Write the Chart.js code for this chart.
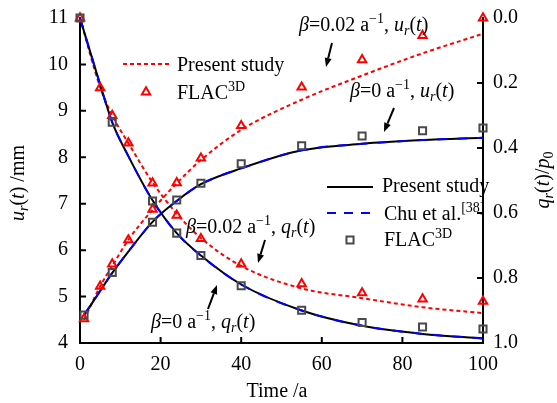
<!DOCTYPE html>
<html lang="en">
<head>
<meta charset="utf-8">
<title>Displacement and support pressure vs time</title>
<script src="https://cdn.jsdelivr.net/npm/chart.js@4.4.0/dist/chart.umd.min.js"></script>
<style>
  html, body { margin: 0; padding: 0; background: #fff; }
  #wrap { width: 557px; height: 403px; }
</style>
</head>
<body>
<div id="wrap"><canvas id="chart" width="557" height="403"></canvas></div>
<script>
// ---- data ----
// computed curves (present study / Chu et al.), time in a
var curveTimeU = [1, 5, 8, 12, 18, 24, 30, 40, 55, 70, 85, 100];
var curveTimeQ = [0, 5, 8, 12, 18, 24, 30, 40, 55, 70, 85, 100];
var urBeta0    = [4.60, 5.12, 5.51, 5.97, 6.61, 7.06, 7.42, 7.76, 8.15, 8.29, 8.37, 8.42];
var urBeta002  = [4.50, 5.22, 5.66, 6.22, 6.87, 7.44, 7.94, 8.59, 9.24, 9.76, 10.24, 10.66];
var qrBeta0    = [0, 0.205, 0.321, 0.425, 0.561, 0.662, 0.731, 0.820, 0.900, 0.947, 0.972, 0.986];
var qrBeta002  = [0, 0.213, 0.300, 0.385, 0.506, 0.602, 0.677, 0.763, 0.832, 0.862, 0.890, 0.908];
var chuUr      = [4.60, 5.12, 5.51, 5.97, 6.61, 7.06, 7.42, 7.76, 8.15, 8.29, 8.37, 8.42];
var chuQr      = [0, 0.205, 0.321, 0.425, 0.561, 0.662, 0.731, 0.820, 0.900, 0.947, 0.972, 0.986];

// FLAC3D results
var flacTimeTri   = [1, 5, 8, 12, 18, 24, 30, 40, 55, 70, 85, 100];
var flacUrBeta002 = [4.52, 5.22, 5.70, 6.22, 6.88, 7.45, 7.98, 8.68, 9.51, 10.10, 10.62, 11.0];
var flacTimeTriQ  = [0, 5, 8, 12, 18, 24, 30, 40, 55, 70, 85, 100];
var flacQrBeta002 = [0, 0.215, 0.300, 0.385, 0.508, 0.607, 0.679, 0.757, 0.818, 0.846, 0.865, 0.872];
var flacTimeSq    = [1, 8, 18, 24, 30, 40, 55, 70, 85, 100];
var flacUrBeta0   = [4.60, 5.52, 6.60, 7.08, 7.44, 7.86, 8.25, 8.46, 8.57, 8.63];
var flacTimeSqQ   = [0, 8, 18, 24, 30, 40, 55, 70, 85, 100];
var flacQrBeta0   = [0, 0.321, 0.563, 0.662, 0.731, 0.824, 0.899, 0.937, 0.951, 0.957];

// axes
var xTicks  = [0, 20, 40, 60, 80, 100];
var yTicks  = [4, 5, 6, 7, 8, 9, 10, 11];
var y1Ticks = [0, 0.2, 0.4, 0.6, 0.8, 1.0];

var FONT = '"Liberation Serif", "Times New Roman", serif';
var RED = '#ff0000', BLUE = '#0000ff', GREY = '#4a4a4a';
Chart.defaults.font.family = FONT;
Chart.defaults.font.weight = 'normal';

function pts(xs, ys) {
  return xs.map(function (x, i) { return { x: x, y: ys[i] }; });
}

function curve(data, axis, color, dash, order) {
  return {
    data: data, yAxisID: axis, borderColor: color, borderWidth: 2,
    borderDash: dash, pointRadius: 0, fill: false,
    cubicInterpolationMode: 'monotone', order: order, clip: false
  };
}

function marks(data, axis, style, color, r, order) {
  return {
    data: data, yAxisID: axis, showLine: false, pointStyle: style,
    pointRadius: r, pointBorderColor: color, pointBackgroundColor: 'rgba(0,0,0,0)',
    pointBorderWidth: 2, order: order, clip: false
  };
}

// ---- rich text helper (italic, sub, sup) ----
function fontFor(style, size) {
  var it = style.indexOf('i') === 0 ? 'italic ' : '';
  var small = (style.indexOf('sub') >= 0 || style.indexOf('sup') >= 0);
  return it + 'normal ' + (small ? Math.round(size * 0.68) : size) + 'px ' + FONT;
}
function drawRich(ctx, x, y, parts, size, align) {
  var w = 0;
  parts.forEach(function (p) { ctx.font = fontFor(p[1] || '', size); w += ctx.measureText(p[0]).width; });
  var cx = align === 'center' ? x - w / 2 : x;
  ctx.textAlign = 'left';
  ctx.textBaseline = 'alphabetic';
  parts.forEach(function (p) {
    var st = p[1] || '';
    var dy = 0;
    if (st.indexOf('sub') >= 0) dy = size * 0.22;
    if (st.indexOf('sup') >= 0) dy = -size * 0.38;
    ctx.font = fontFor(st, size);
    ctx.fillText(p[0], cx, y + dy);
    cx += ctx.measureText(p[0]).width;
  });
}
function arrow(ctx, x1, y1, x2, y2) {
  var ang = Math.atan2(y2 - y1, x2 - x1), hl = 9, hw = 3.5;
  var bx = x2 - hl * Math.cos(ang), by = y2 - hl * Math.sin(ang);
  ctx.beginPath(); ctx.moveTo(x1, y1); ctx.lineTo(bx, by); ctx.stroke();
  ctx.beginPath();
  ctx.moveTo(x2, y2);
  ctx.lineTo(bx + hw * Math.sin(ang), by - hw * Math.cos(ang));
  ctx.lineTo(bx - hw * Math.sin(ang), by + hw * Math.cos(ang));
  ctx.closePath(); ctx.fill();
}

var extras = {
  id: 'extras',
  afterDraw: function (chart) {
    var ctx = chart.ctx, a = chart.chartArea, len = 6;
    var sx = chart.scales.x, sy = chart.scales.y, sy1 = chart.scales.y1;
    ctx.save();
    ctx.strokeStyle = '#000'; ctx.fillStyle = '#000'; ctx.lineWidth = 2;
    // inward ticks
    ctx.beginPath();
    xTicks.forEach(function (v) {
      if (v <= 0 || v >= 100) return;
      var p = sx.getPixelForValue(v); ctx.moveTo(p, a.bottom); ctx.lineTo(p, a.bottom - len);
    });
    yTicks.forEach(function (v) {
      if (v <= 4 || v >= 11) return;
      var p = sy.getPixelForValue(v); ctx.moveTo(a.left, p); ctx.lineTo(a.left + len, p);
    });
    y1Ticks.forEach(function (v) {
      if (v <= 0 || v >= 1) return;
      var p = sy1.getPixelForValue(v); ctx.moveTo(a.right, p); ctx.lineTo(a.right - len, p);
    });
    ctx.stroke();

    // axis titles
    ctx.save(); ctx.translate(24, 183); ctx.rotate(-Math.PI / 2);
    drawRich(ctx, 0, 0, [['u', 'i'], ['r', 'isub'], ['('], ['t', 'i'], [') /mm']], 20, 'center');
    ctx.restore();
    ctx.save(); ctx.translate(549, 180); ctx.rotate(-Math.PI / 2);
    drawRich(ctx, 0, 0, [['q', 'i'], ['r', 'isub'], ['('], ['t', 'i'], [')/'], ['p', 'i'], ['0', 'sub']], 20, 'center');
    ctx.restore();
    drawRich(ctx, 277, 397, [['Time /a']], 20, 'center');

    // curve annotations
    drawRich(ctx, 299, 31, [['β', 'i'], ['=0.02 a'], ['−1', 'sup'], [', '], ['u', 'i'], ['r', 'isub'], ['('], ['t', 'i'], [')']], 20);
    drawRich(ctx, 350, 97, [['β', 'i'], ['=0 a'], ['−1', 'sup'], [', '], ['u', 'i'], ['r', 'isub'], ['('], ['t', 'i'], [')']], 20);
    drawRich(ctx, 186, 233, [['β', 'i'], ['=0.02 a'], ['−1', 'sup'], [', '], ['q', 'i'], ['r', 'isub'], ['('], ['t', 'i'], [')']], 20);
    drawRich(ctx, 151, 328, [['β', 'i'], ['=0 a'], ['−1', 'sup'], [', '], ['q', 'i'], ['r', 'isub'], ['('], ['t', 'i'], [')']], 20);
    arrow(ctx, 332, 43, 326, 67);
    arrow(ctx, 394, 108, 384, 132);
    arrow(ctx, 265, 240, 258, 263);
    arrow(ctx, 208, 309, 217, 285);

    // legend 1 (beta = 0.02)
    ctx.strokeStyle = RED; ctx.setLineDash([4, 3]);
    ctx.beginPath(); ctx.moveTo(123, 64); ctx.lineTo(171, 64); ctx.stroke();
    ctx.setLineDash([]);
    ctx.fillStyle = 'rgba(0,0,0,0)';
    Chart.helpers.drawPoint(ctx, { pointStyle: 'triangle', radius: 4.8, borderWidth: 2 }, 146, 92);
    ctx.fillStyle = '#000';
    drawRich(ctx, 177, 71, [['Present study']], 20);
    drawRich(ctx, 177, 99, [['FLAC'], ['3D', 'sup']], 20);

    // legend 2 (beta = 0)
    ctx.strokeStyle = '#000';
    ctx.beginPath(); ctx.moveTo(327, 187); ctx.lineTo(373, 187); ctx.stroke();
    ctx.strokeStyle = BLUE; ctx.setLineDash([9, 8]);
    ctx.beginPath(); ctx.moveTo(327, 213); ctx.lineTo(375, 213); ctx.stroke();
    ctx.setLineDash([]);
    ctx.strokeStyle = GREY;
    ctx.fillStyle = 'rgba(0,0,0,0)';
    Chart.helpers.drawPoint(ctx, { pointStyle: 'rect', radius: 5, borderWidth: 2 }, 350, 240);
    ctx.fillStyle = '#000';
    drawRich(ctx, 382, 192, [['Present study']], 20);
    drawRich(ctx, 384, 220, [['Chu et al.'], ['[38]', 'sup']], 20);
    drawRich(ctx, 384, 246, [['FLAC'], ['3D', 'sup']], 20);
    ctx.restore();
  }
};

var tickFont = { family: FONT, size: 20, weight: 'normal' };

new Chart(document.getElementById('chart'), {
  type: 'line',
  data: {
    datasets: [
      curve(pts(curveTimeU, urBeta002), 'y', RED, [4, 3], 5),
      curve(pts(curveTimeQ, qrBeta002), 'y1', RED, [4, 3], 5),
      curve(pts(curveTimeU, urBeta0), 'y', '#000', [], 4),
      curve(pts(curveTimeQ, qrBeta0), 'y1', '#000', [], 4),
      curve(pts(curveTimeU, chuUr), 'y', BLUE, [10, 10], 3),
      curve(pts(curveTimeQ, chuQr), 'y1', BLUE, [10, 10], 3),
      marks(pts(flacTimeTri, flacUrBeta002), 'y', 'triangle', RED, 4.8, 1),
      marks(pts(flacTimeTriQ, flacQrBeta002), 'y1', 'triangle', RED, 4.8, 1),
      marks(pts(flacTimeSq, flacUrBeta0), 'y', 'rect', GREY, 5, 0),
      marks(pts(flacTimeSqQ, flacQrBeta0), 'y1', 'rect', GREY, 5, 0)
    ]
  },
  options: {
    responsive: false,
    animation: false,
    layout: { padding: { top: 18, left: 0, right: 0, bottom: 0 } },
    plugins: { legend: { display: false }, tooltip: { enabled: false } },
    scales: {
      x: {
        type: 'linear', min: 0, max: 100,
        afterBuildTicks: function (s) { s.ticks = xTicks.map(function (v) { return { value: v }; }); },
        afterFit: function (s) { s.height = 60; s.paddingLeft = 0; s.paddingRight = 0; },
        grid: { display: false, drawTicks: false },
        border: { display: true, color: '#000', width: 2 },
        ticks: { color: '#000', font: tickFont, padding: 10, maxRotation: 0 }
      },
      y: {
        type: 'linear', position: 'left', min: 4, max: 11,
        afterBuildTicks: function (s) { s.ticks = yTicks.map(function (v) { return { value: v }; }); },
        afterFit: function (s) { s.width = 80; s.paddingTop = 0; s.paddingBottom = 0; },
        grid: { display: false, drawTicks: false },
        border: { display: true, color: '#000', width: 2 },
        ticks: { color: '#000', font: tickFont, padding: 12 }
      },
      y1: {
        type: 'linear', position: 'right', min: 0, max: 1, reverse: true,
        afterBuildTicks: function (s) { s.ticks = y1Ticks.map(function (v) { return { value: v }; }); },
        afterFit: function (s) { s.width = 74; s.paddingTop = 0; s.paddingBottom = 0; },
        grid: { display: false, drawTicks: false },
        border: { display: true, color: '#000', width: 2 },
        ticks: { color: '#000', font: tickFont, padding: 10,
          callback: function (v) { return Number(v).toFixed(1); } }
      }
    }
  },
  plugins: [extras]
});
</script>
</body>
</html>
